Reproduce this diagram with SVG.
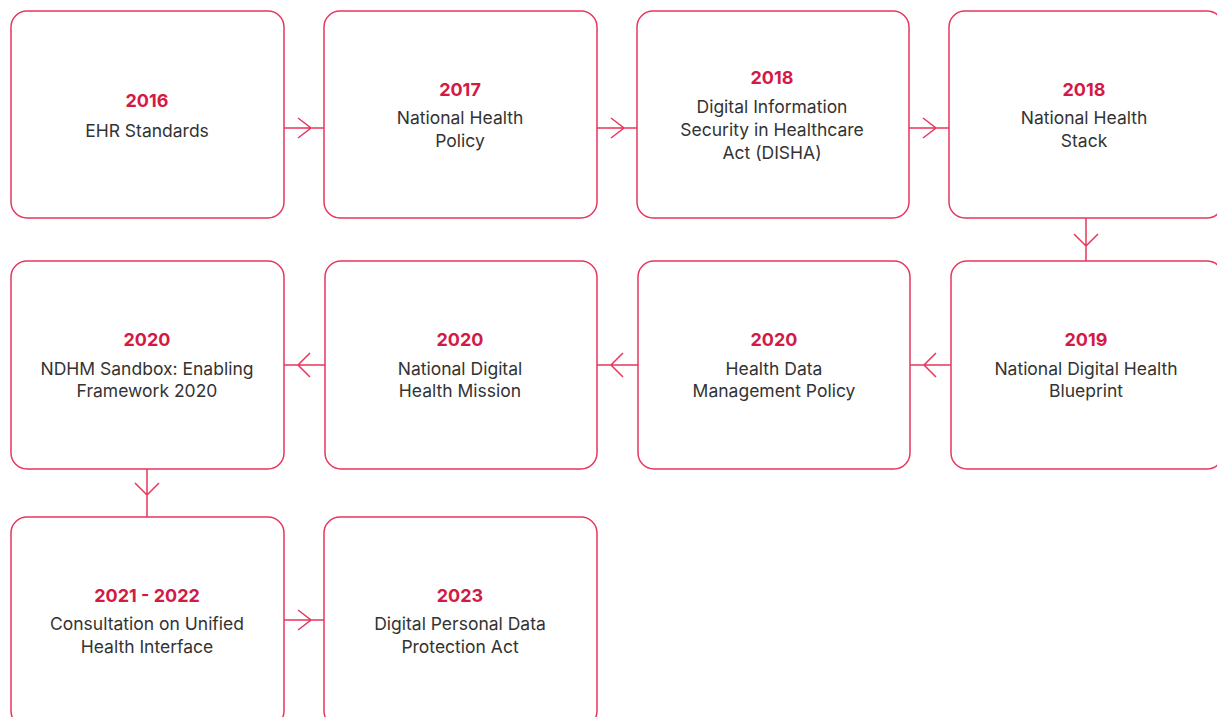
<svg xmlns="http://www.w3.org/2000/svg" width="1217" height="717" viewBox="0 0 1217 717">
<style>
.box{fill:#fff;stroke:#e8365d;stroke-width:1.5}
.ln{fill:none;stroke:#e8365d;stroke-width:1.5}
.yr{font-family:Inter,"Noto Sans",sans-serif;font-weight:700;font-size:18px;fill:#d31a45;text-anchor:middle}
.tx{font-family:Inter,"Noto Sans",sans-serif;font-size:17.5px;fill:#333;text-anchor:middle}
</style>
<rect width="1217" height="717" fill="#fff"/>
<g id="connectors">
<path class="ln" d="M284 128H324M298 118L311 128L298 138"/>
<path class="ln" d="M597 128H637M611 118L624 128L611 138"/>
<path class="ln" d="M909 128H949M923 118L936 128L923 138"/>
<path class="ln" d="M1086 218V261M1074 234L1086 246L1098 234"/>
<path class="ln" d="M951 365H910M936 353L924 365L936 377"/>
<path class="ln" d="M638 365H597M623 353L611 365L623 377"/>
<path class="ln" d="M325 365H284M310 353L298 365L310 377"/>
<path class="ln" d="M147 469V517M135 483L147 495L159 483"/>
<path class="ln" d="M284 620H324M298 610L311 620L298 630"/>
</g>
<g id="n1"><rect class="box" x="11" y="11" width="273" height="207" rx="16"/><text class="yr" x="147" y="107">2016</text><text class="tx" x="147" y="137">EHR Standards</text></g>
<g id="n2"><rect class="box" x="324" y="11" width="273" height="207" rx="16"/><text class="yr" x="460" y="96">2017</text><text class="tx" x="460" y="124">National Health</text><text class="tx" x="460" y="147">Policy</text></g>
<g id="n3"><rect class="box" x="637" y="11" width="272" height="207" rx="16"/><text class="yr" x="772" y="84">2018</text><text class="tx" x="772" y="113">Digital Information</text><text class="tx" x="772" y="136">Security in Healthcare</text><text class="tx" x="772" y="159">Act (DISHA)</text></g>
<g id="n4"><rect class="box" x="949" y="11" width="274" height="207" rx="16"/><text class="yr" x="1084" y="96">2018</text><text class="tx" x="1084" y="124">National Health</text><text class="tx" x="1084" y="147">Stack</text></g>
<g id="n5"><rect class="box" x="951" y="261" width="272" height="208" rx="16"/><text class="yr" x="1086" y="346">2019</text><text class="tx" x="1086" y="375">National Digital Health</text><text class="tx" x="1086" y="397">Blueprint</text></g>
<g id="n6"><rect class="box" x="638" y="261" width="272" height="208" rx="16"/><text class="yr" x="774" y="346">2020</text><text class="tx" x="774" y="375">Health Data</text><text class="tx" x="774" y="397">Management Policy</text></g>
<g id="n7"><rect class="box" x="325" y="261" width="272" height="208" rx="16"/><text class="yr" x="460" y="346">2020</text><text class="tx" x="460" y="375">National Digital</text><text class="tx" x="460" y="397">Health Mission</text></g>
<g id="n8"><rect class="box" x="11" y="261" width="273" height="208" rx="16"/><text class="yr" x="147" y="346">2020</text><text class="tx" x="147" y="375">NDHM Sandbox: Enabling</text><text class="tx" x="147" y="397">Framework 2020</text></g>
<g id="n9"><rect class="box" x="11" y="517" width="273" height="210" rx="16"/><text class="yr" x="147" y="602">2021 - 2022</text><text class="tx" x="147" y="630">Consultation on Unified</text><text class="tx" x="147" y="653">Health Interface</text></g>
<g id="n10"><rect class="box" x="324" y="517" width="273" height="210" rx="16"/><text class="yr" x="460" y="602">2023</text><text class="tx" x="460" y="630">Digital Personal Data</text><text class="tx" x="460" y="653">Protection Act</text></g>
</svg>
